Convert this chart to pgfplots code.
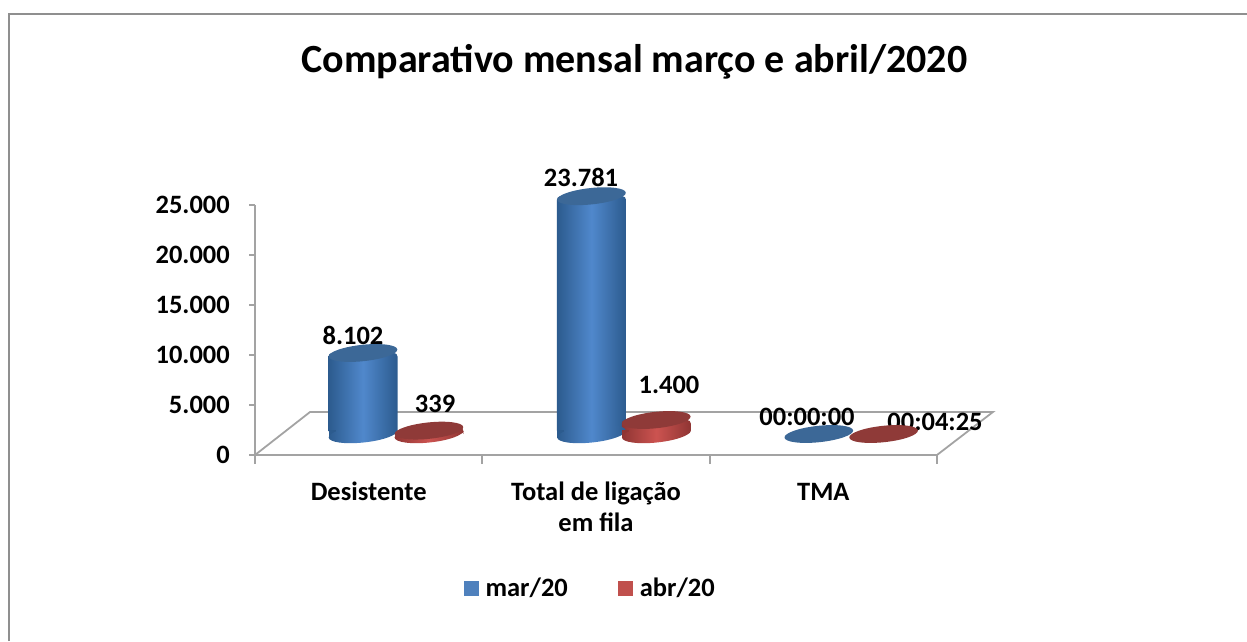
\documentclass[border=0pt]{standalone}
\usepackage{pgfplots}
\usepackage{pgfplotstable}
\usepackage{fontspec}
\setmainfont{Carlito}
\pgfplotsset{compat=1.18}
\definecolor{axc}{HTML}{A3A3A3}
\definecolor{frm}{HTML}{8F8F8F}
\definecolor{bE}{HTML}{2C5B8E}
\definecolor{bM}{HTML}{5088CC}
\definecolor{bT}{HTML}{3C6897}
\definecolor{rE}{HTML}{8F3533}
\definecolor{rM}{HTML}{CC5350}
\definecolor{rT}{HTML}{8F3A38}
\definecolor{bL}{HTML}{4F81BD}
\definecolor{rL}{HTML}{C0504D}
\pgfdeclarehorizontalshading{bshade}{100bp}{color(0bp)=(bE); color(25bp)=(bE); color(50bp)=(bM); color(75bp)=(bE); color(100bp)=(bE)}
\pgfdeclarehorizontalshading{rshade}{100bp}{color(0bp)=(rE); color(25bp)=(rE); color(50bp)=(rM); color(75bp)=(rE); color(100bp)=(rE)}
\pgfdeclareplotmark{topblue}{\pgftransformrotate{6}\pgfsetfillcolor{bT}\pgfpathellipse{\pgfpointorigin}{\pgfqpoint{34.5pt}{0pt}}{\pgfqpoint{0pt}{8.2pt}}\pgfusepath{fill}}
\pgfdeclareplotmark{topred}{\pgftransformrotate{6}\pgfsetfillcolor{rT}\pgfpathellipse{\pgfpointorigin}{\pgfqpoint{34.5pt}{0pt}}{\pgfqpoint{0pt}{8.2pt}}\pgfusepath{fill}}
\pgfdeclareplotmark{baseblue}{%
  \pgfsetfillcolor{bE}\pgfpathrectangle{\pgfqpoint{-34.5pt}{-3.6pt}}{\pgfqpoint{7pt}{7.6pt}}\pgfusepath{fill}%
  \pgftransformrotate{6}\pgfpathellipse{\pgfpointorigin}{\pgfqpoint{34.5pt}{0pt}}{\pgfqpoint{0pt}{8.5pt}}\pgfshadepath{bshade}{0}\pgfusepath{discard}}
\pgfdeclareplotmark{basered}{%
  \pgfsetfillcolor{rE}\pgfpathrectangle{\pgfqpoint{-34.5pt}{-3.6pt}}{\pgfqpoint{7pt}{7.6pt}}\pgfusepath{fill}%
  \pgftransformrotate{6}\pgfpathellipse{\pgfpointorigin}{\pgfqpoint{34.5pt}{0pt}}{\pgfqpoint{0pt}{8.5pt}}\pgfshadepath{rshade}{0}\pgfusepath{discard}}
\pgfdeclareplotmark{baseredsmall}{%
  \pgftransformrotate{6}\pgfpathellipse{\pgfpointorigin}{\pgfqpoint{34.5pt}{0pt}}{\pgfqpoint{0pt}{8.5pt}}\pgfshadepath{rshade}{0}\pgfusepath{discard}}
\pgfplotstableread{
x y
0.355 8102
1.360 23781
2.360 0
}\marB
\pgfplotstableread{
x y
0.645 339
1.645 1400
2.645 0.003
}\abrB
\pgfplotsset{
  cylb/.style={ybar,bar width=69pt,bar shift=0pt,draw=none,left color=bE,right color=bE,middle color=bM,rounded corners=3.5pt,forget plot},
  cylr/.style={ybar,bar width=69pt,bar shift=0pt,draw=none,left color=rE,right color=rE,middle color=rM,rounded corners=3.5pt,forget plot},
}
\newcommand{\lab}{\fontsize{26.5}{31}\bfseries\selectfont}
\begin{document}
\begin{tikzpicture}[x=1pt,y=1pt]
\useasboundingbox (0,0) rectangle (1247,641);
\draw[frm,line width=2pt] (9,0) -- (9,627) -- (1247,627);
\node[font=\fontsize{40}{44}\bfseries\selectfont] at (634.5,579) {Comparativo mensal março e abril/2020};
\begin{axis}[
  at={(255pt,186pt)},anchor=south west,scale only axis,width=682pt,height=250pt,
  xmin=0,xmax=3,ymin=0,ymax=25000,clip=false,
  axis x line=bottom,axis y line=left,
  axis line style={-,axc,line width=1.8pt},
  scaled y ticks=false,
  typeset ticklabels with strut,
  xtick={0.5,1.5,2.5},minor xtick={0,1,2,3},
  xticklabels={Desistente,{Total de ligação\\em fila},TMA},
  ytick={0,5000,10000,15000,20000,25000},
  yticklabels={0,5.000,10.000,15.000,20.000,25.000},
  tick align=outside,
  major x tick style={draw=none},
  minor x tick style={axc,line width=1.8pt},
  minor tick length=9pt,
  major tick length=6pt,
  y tick style={axc,line width=1.8pt},
  x tick label style={font=\lab,align=center,yshift=-18pt,inner sep=0pt},
  y tick label style={font=\lab,xshift=-19pt,yshift=-2pt,inner sep=0pt,anchor=east},
]
\addplot[axc,line width=1.8pt] coordinates {(0,0) (0.242,4300) (3.246,4300) (3,0)};
\end{axis}
\begin{axis}[
  at={(282.3pt,207pt)},anchor=south west,scale only axis,width=682pt,height=250pt,
  xmin=0,xmax=3,ymin=0,ymax=25000,clip=false,hide axis,
  legend style={at={(0.45,-0.616)},anchor=center,draw=none,fill=none,
    legend columns=2,font=\lab,inner sep=0pt,
    /tikz/every odd column/.append style={column sep=7pt},
    /tikz/every even column/.append style={column sep=50pt},
    nodes={inner sep=0pt}},
  legend image code/.code={\path[#1] (0pt,-7.5pt) rectangle (15pt,7.5pt);},
]
\addlegendimage{fill=bL,draw=none}\addlegendentry{mar/20}
\addlegendimage{fill=rL,draw=none}\addlegendentry{abr/20}
\addplot[only marks,mark=baseblue,forget plot] coordinates {(0.355,0) (1.360,0)};
\addplot[cylb] coordinates {(0.355,8102)};
\addplot[cylb] coordinates {(1.360,23781)};
\addplot[only marks,mark=topblue,forget plot] table[x=x,y=y] {\marB};
\addplot[only marks,mark=baseredsmall,forget plot] coordinates {(0.645,0)};
\addplot[only marks,mark=basered,forget plot] coordinates {(1.645,0)};
\addplot[cylr] coordinates {(0.645,339)};
\addplot[cylr] coordinates {(1.645,1400)};
\addplot[only marks,mark=topred,forget plot] table[x=x,y=y] {\abrB};
\node[font=\lab] at (axis cs:0.311,9900) {8.102};
\node[font=\lab] at (axis cs:0.672,3000) {339};
\node[font=\lab] at (axis cs:1.314,25700) {23.781};
\node[font=\lab] at (axis cs:1.701,4900) {1.400};
\node[font=\lab] at (axis cs:2.308,1700) {00:00:00};
\node[font=\lab] at (axis cs:2.871,1200) {00:04:25};
\end{axis}
\end{tikzpicture}
\end{document}
